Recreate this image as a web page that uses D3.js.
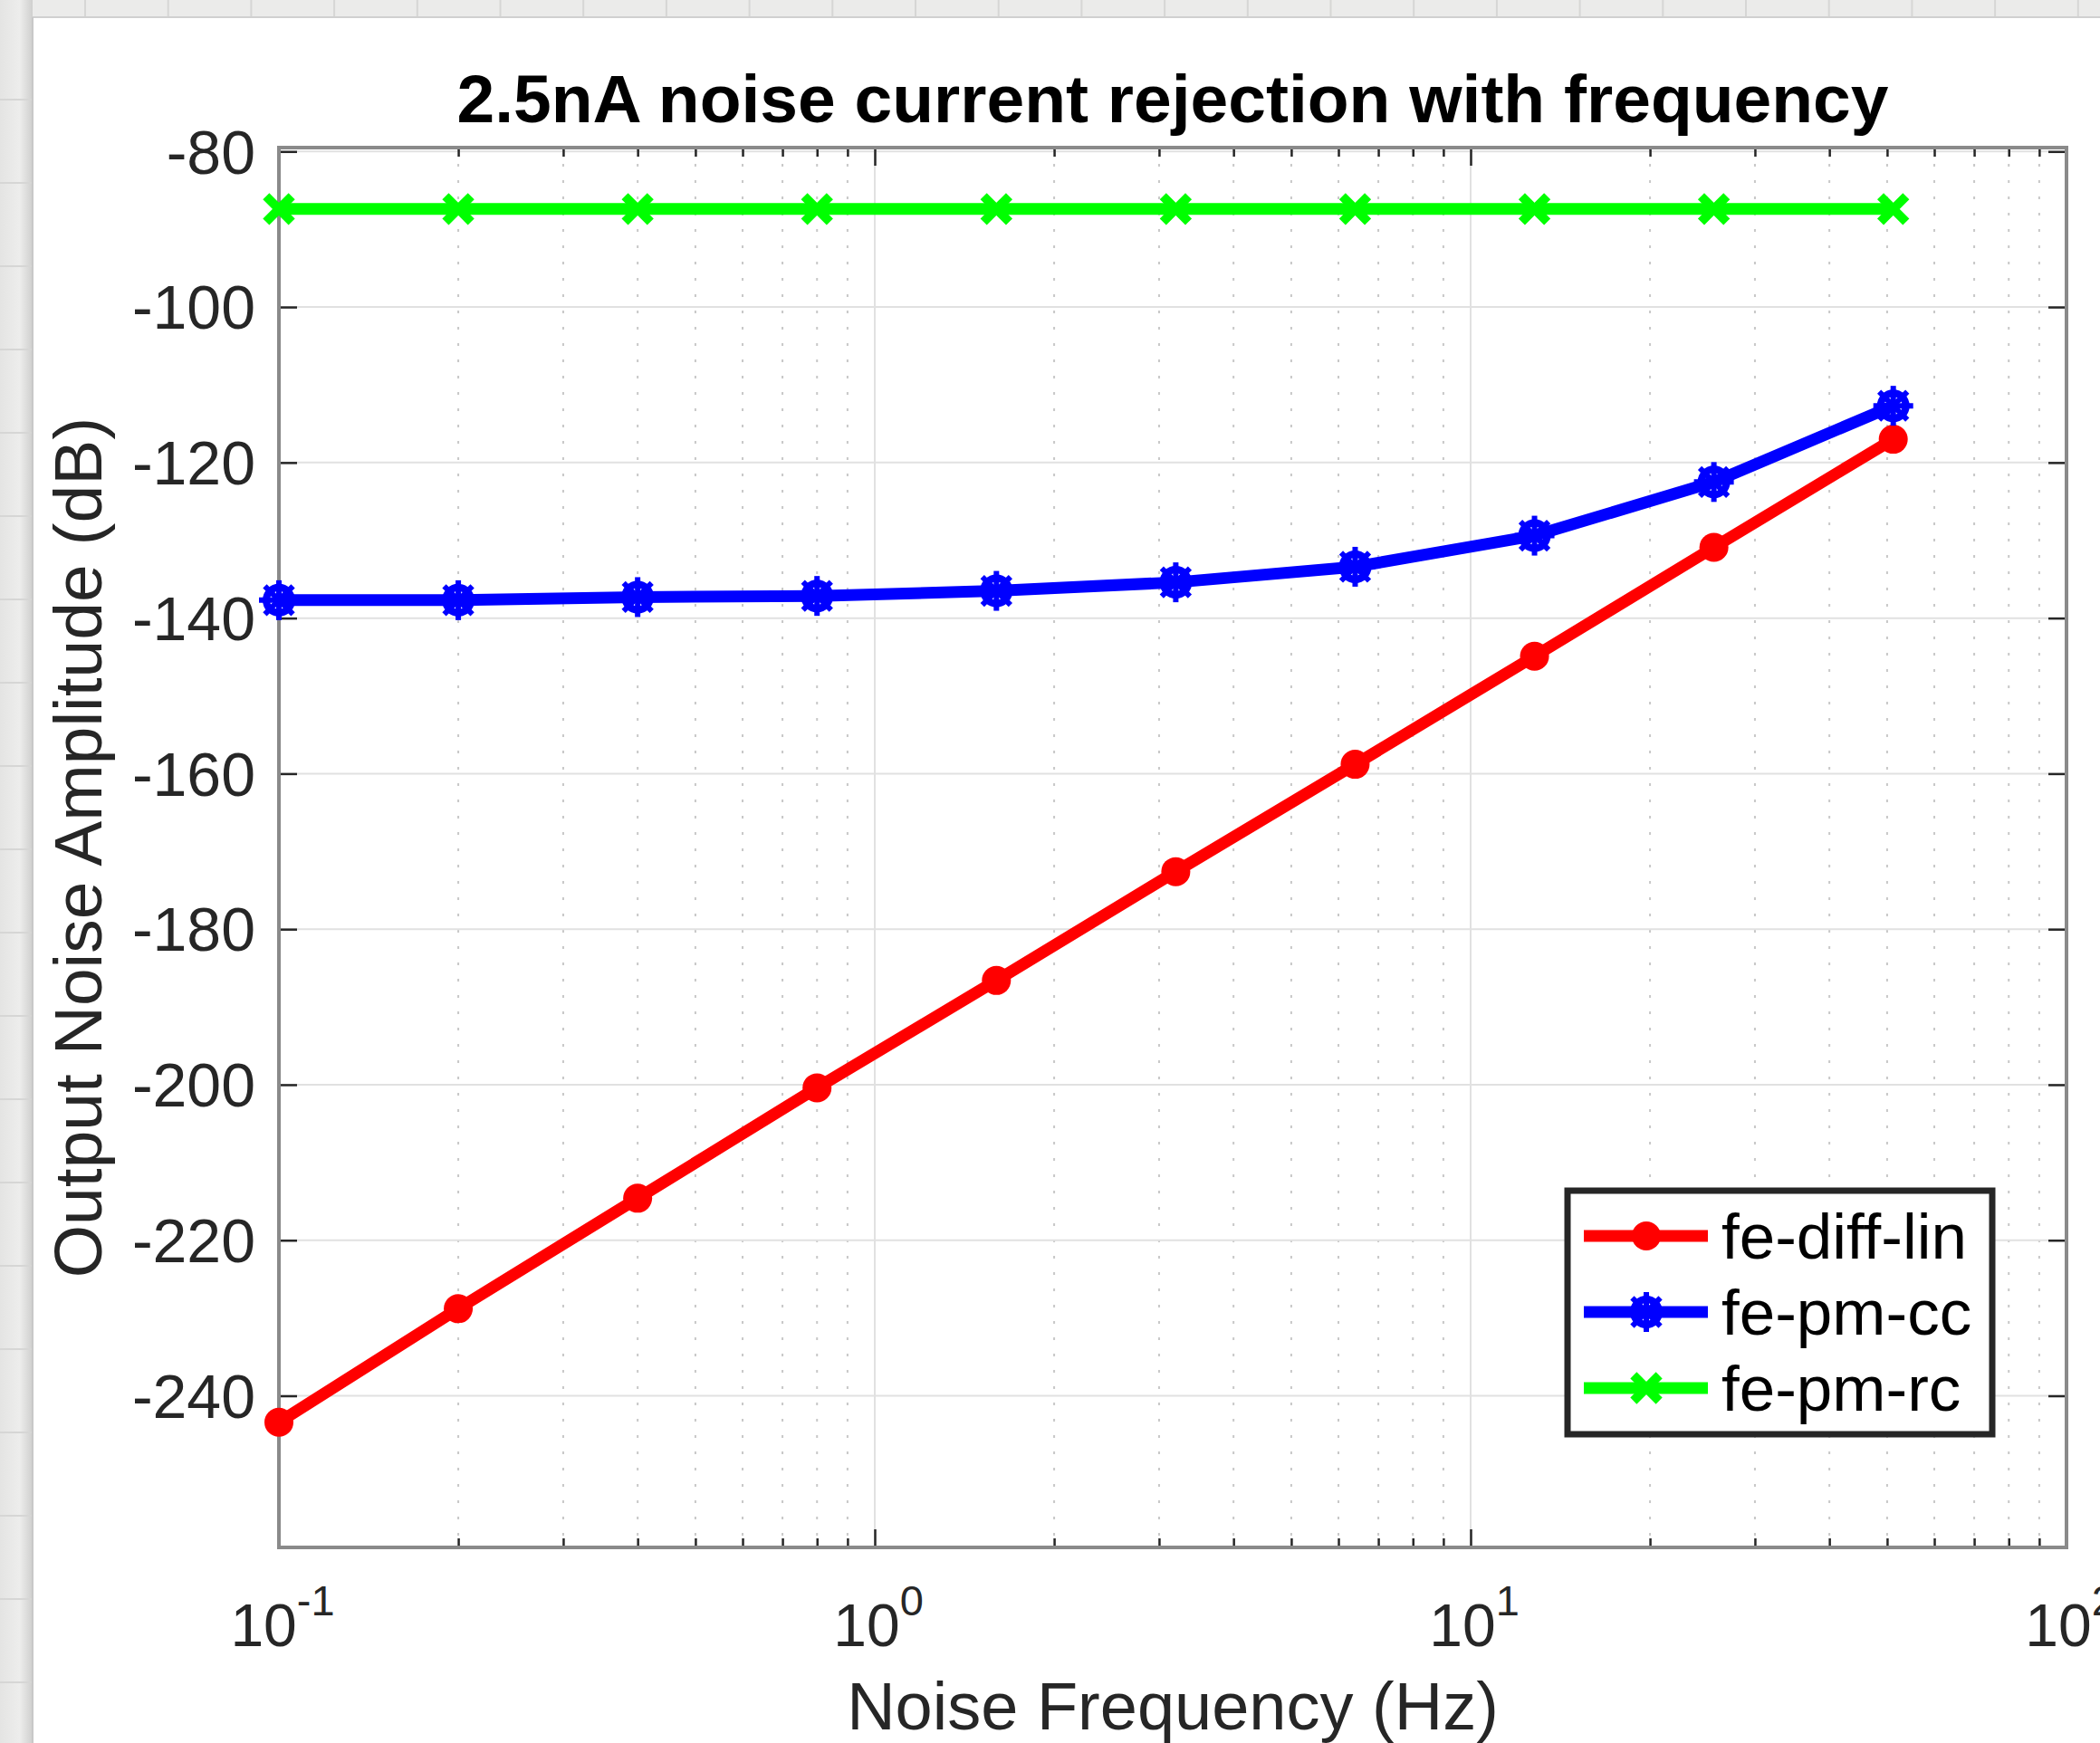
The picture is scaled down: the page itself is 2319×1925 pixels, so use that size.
<!DOCTYPE html>
<html>
<head>
<meta charset="utf-8">
<script src="https://cdn.jsdelivr.net/npm/d3@7"></script>
<style>
  body { margin: 0; background: #fff; }
  svg { display: block; font-family: "Liberation Sans", Arial, Helvetica, sans-serif; }
</style>
</head>
<body>
<div id="chart"></div>
<script>
// data
const freqs = [0.1, 0.2, 0.4, 0.8, 1.6, 3.2, 6.4, 12.8, 25.6, 51.2];
const diffLin = [-243.4, -228.8, -214.6, -200.4, -186.6, -172.6, -158.8, -144.9, -130.9, -117.0];
const pmCC = [-137.7, -137.7, -137.3, -137.15, -136.5, -135.4, -133.4, -129.4, -122.5, -112.7];
const pmRC = [-87.4, -87.4, -87.4, -87.4, -87.4, -87.4, -87.4, -87.4, -87.4, -87.4];
const seriesNames = ["fe-diff-lin", "fe-pm-cc", "fe-pm-rc"];
const seriesColors = ["#ff0000", "#0000ff", "#00ff00"];
const seriesMarkers = ["circle", "star", "cross"];

const yTicks = [-240, -220, -200, -180, -160, -140, -120, -100, -80];
const xMajor = [0.1, 1, 10, 100];
const xMajorExp = ["-1", "0", "1", "2"];
const xMinor = [0.2, 0.3, 0.4, 0.5, 0.6, 0.7, 0.8, 0.9, 2, 3, 4, 5, 6, 7, 8, 9, 20, 30, 40, 50, 60, 70, 80, 90];

const W = 2319, H = 1925;
const plot = { left: 308, right: 2282, top: 163, bottom: 1709 };

const svg = d3.select("#chart").append("svg")
    .attr("width", W).attr("height", H)
    .attr("viewBox", `0 0 ${W} ${H}`);

// background: white sheet with a bit of grey paper showing at the top and left
svg.append("rect").attr("width", W).attr("height", H).attr("fill", "#ffffff");
svg.append("rect").attr("x", 0).attr("y", 0).attr("width", W).attr("height", 19).attr("fill", "#ebebea");
const grad = svg.append("defs").append("linearGradient").attr("id", "leftStrip");
grad.append("stop").attr("offset", "0%").attr("stop-color", "#e4e4e3");
grad.append("stop").attr("offset", "60%").attr("stop-color", "#ededec");
grad.append("stop").attr("offset", "100%").attr("stop-color", "#cfcfce");
svg.append("rect").attr("x", 0).attr("y", 0).attr("width", 36).attr("height", H).attr("fill", "url(#leftStrip)");
for (let gx = 94; gx < W; gx += 91.7) {
    svg.append("line").attr("x1", gx).attr("x2", gx).attr("y1", 0).attr("y2", 19)
        .attr("stroke", "#d6d6d5").attr("stroke-width", 2);
}
for (let gy = 110; gy < H; gy += 92) {
    svg.append("line").attr("x1", 0).attr("x2", 36).attr("y1", gy).attr("y2", gy)
        .attr("stroke", "#d6d6d5").attr("stroke-width", 2);
}
svg.append("line").attr("x1", 36).attr("x2", W).attr("y1", 19).attr("y2", 19).attr("stroke", "#d0d0d0").attr("stroke-width", 2);
svg.append("line").attr("x1", 36).attr("x2", 36).attr("y1", 19).attr("y2", H).attr("stroke", "#c8c8c8").attr("stroke-width", 2);

const x = d3.scaleLog().domain([0.1, 100]).range([plot.left, plot.right]);
const y = d3.scaleLinear().domain([-259.5, -79.5]).range([plot.bottom, plot.top]);

// grid
const grid = svg.append("g");
grid.selectAll(".minor").data(xMinor).enter().append("line")
    .attr("x1", d => x(d)).attr("x2", d => x(d))
    .attr("y1", plot.top).attr("y2", plot.bottom)
    .attr("stroke", "#c8c8c8").attr("stroke-width", 2).attr("stroke-dasharray", "3,15");
grid.selectAll(".xmaj").data(xMajor.slice(1, 3)).enter().append("line")
    .attr("x1", d => x(d)).attr("x2", d => x(d))
    .attr("y1", plot.top).attr("y2", plot.bottom)
    .attr("stroke", "#e1e1e1").attr("stroke-width", 2);
grid.selectAll(".ymaj").data(yTicks).enter().append("line")
    .attr("x1", plot.left).attr("x2", plot.right)
    .attr("y1", d => y(d)).attr("y2", d => y(d))
    .attr("stroke", "#e1e1e1").attr("stroke-width", 2);

// axes (ticks pointing inward)
const tickColor = "#262626";
const yLeft = svg.append("g").attr("transform", `translate(${plot.left},0)`)
    .call(d3.axisLeft(y).tickValues(yTicks).tickSize(-20).tickPadding(26).tickFormat(d => String(d)));
const yRight = svg.append("g").attr("transform", `translate(${plot.right},0)`)
    .call(d3.axisRight(y).tickValues(yTicks).tickSize(-20).tickFormat(""));
const xBottomMaj = svg.append("g").attr("transform", `translate(0,${plot.bottom})`)
    .call(d3.axisBottom(x).tickValues(xMajor).tickSize(-20).tickFormat(""));
const xBottomMin = svg.append("g").attr("transform", `translate(0,${plot.bottom})`)
    .call(d3.axisBottom(x).tickValues(xMinor).tickSize(-10).tickFormat(""));
const xTopMaj = svg.append("g").attr("transform", `translate(0,${plot.top})`)
    .call(d3.axisTop(x).tickValues(xMajor).tickSize(-20).tickFormat(""));
const xTopMin = svg.append("g").attr("transform", `translate(0,${plot.top})`)
    .call(d3.axisTop(x).tickValues(xMinor).tickSize(-10).tickFormat(""));

[yLeft, yRight, xBottomMaj, xBottomMin, xTopMaj, xTopMin].forEach(g => {
    g.select(".domain").remove();
    g.selectAll(".tick line").attr("stroke", tickColor).attr("stroke-width", 2.5);
});
yLeft.selectAll(".tick text")
    .attr("font-size", 68).attr("fill", tickColor)
    .attr("font-family", "Liberation Sans, Arial, sans-serif")
    .attr("dy", "0.35em");

svg.append("rect")
    .attr("x", plot.left).attr("y", plot.top)
    .attr("width", plot.right - plot.left).attr("height", plot.bottom - plot.top)
    .attr("fill", "none").attr("stroke", "#8a8a8a").attr("stroke-width", 4);

// x tick labels with exponents
const xl = svg.append("g");
xMajor.forEach((v, i) => {
    const t = xl.append("text")
        .attr("x", x(v) + 4).attr("y", 1818)
        .attr("text-anchor", "middle").attr("fill", tickColor)
        .attr("font-size", 66);
    t.append("tspan").text("10");
    t.append("tspan").attr("dy", -34).attr("font-size", 47).text(xMajorExp[i]);
});

// lines + markers
const line = d3.line().x(d => x(d[0])).y(d => y(d[1]));
const allSeries = [diffLin, pmCC, pmRC];

function drawMarker(g, type, color, cx, cy) {
    if (type === "circle") {
        g.append("circle").attr("cx", cx).attr("cy", cy).attr("r", 16).attr("fill", color);
    } else if (type === "star") {
        const m = g.append("g").attr("transform", `translate(${cx},${cy})`);
        m.append("circle").attr("r", 14).attr("fill", "none").attr("stroke", color).attr("stroke-width", 8);
        [0, 45, 90, 135].forEach(a => {
            m.append("line").attr("x1", -22).attr("x2", 22).attr("y1", 0).attr("y2", 0)
                .attr("transform", `rotate(${a})`)
                .attr("stroke", color).attr("stroke-width", 6);
        });
    } else {
        const m = g.append("g").attr("transform", `translate(${cx},${cy})`);
        [45, -45].forEach(a => {
            m.append("line").attr("x1", -20).attr("x2", 20).attr("y1", 0).attr("y2", 0)
                .attr("transform", `rotate(${a})`)
                .attr("stroke", color).attr("stroke-width", 10);
        });
    }
}

allSeries.forEach((vals, s) => {
    const pts = freqs.map((f, i) => [f, vals[i]]);
    const g = svg.append("g");
    g.append("path").datum(pts).attr("d", line)
        .attr("fill", "none").attr("stroke", seriesColors[s])
        .attr("stroke-width", 13).attr("stroke-linejoin", "round");
    pts.forEach(p => drawMarker(g, seriesMarkers[s], seriesColors[s], x(p[0]), y(p[1])));
});

// legend
const legend = svg.append("g");
legend.append("rect").attr("x", 1731).attr("y", 1315).attr("width", 469).attr("height", 269)
    .attr("fill", "#ffffff").attr("stroke", "#262626").attr("stroke-width", 7);
seriesNames.forEach((name, i) => {
    const cy = 1365 + i * 84;
    legend.append("line").attr("x1", 1749).attr("x2", 1886).attr("y1", cy).attr("y2", cy)
        .attr("stroke", seriesColors[i]).attr("stroke-width", 13);
    drawMarker(legend, seriesMarkers[i], seriesColors[i], 1818, cy);
    legend.append("text").attr("x", 1901).attr("y", cy + 25)
        .attr("font-size", 71).attr("fill", "#000").text(name);
});

// title and axis labels
svg.append("text").attr("x", (plot.left + plot.right) / 2).attr("y", 135)
    .attr("text-anchor", "middle").attr("font-size", 75).attr("font-weight", "bold")
    .attr("fill", "#000").text("2.5nA noise current rejection with frequency");
svg.append("text").attr("x", (plot.left + plot.right) / 2).attr("y", 1910)
    .attr("text-anchor", "middle").attr("font-size", 74).attr("fill", tickColor)
    .text("Noise Frequency (Hz)");
svg.append("text").attr("transform", `translate(112,${(plot.top + plot.bottom) / 2}) rotate(-90)`)
    .attr("text-anchor", "middle").attr("font-size", 75).attr("fill", tickColor)
    .text("Output Noise Amplitude (dB)");
</script>
</body>
</html>
